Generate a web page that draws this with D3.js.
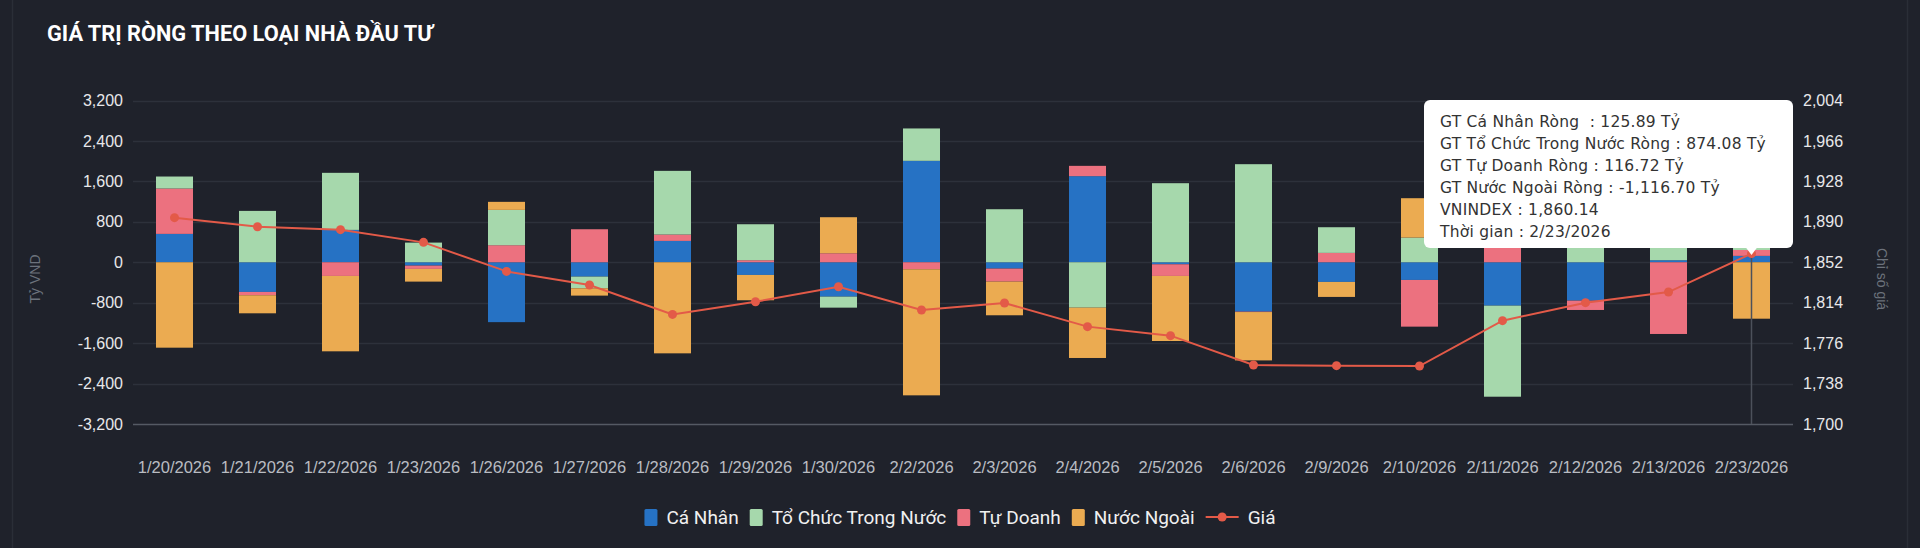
<!DOCTYPE html>
<html>
<head>
<meta charset="utf-8">
<script src="https://cdn.jsdelivr.net/npm/d3@7"></script>
<style>
  html, body { margin: 0; padding: 0; background: #1f222b; }
  svg { display: block; }
</style>
</head>
<body>
<svg id="chart" width="1920" height="548"></svg>
<script>
// ---------------- DATA ----------------
const dates = ["1/20/2026","1/21/2026","1/22/2026","1/23/2026","1/26/2026","1/27/2026","1/28/2026","1/29/2026","1/30/2026","2/2/2026",
               "2/3/2026","2/4/2026","2/5/2026","2/6/2026","2/9/2026","2/10/2026","2/11/2026","2/12/2026","2/13/2026","2/23/2026"];
const caNhan    = [561, -587, 640, -66, -1185, -284, 422, -251, -680, 2006, -125, 1703, -40, -977, -389, -350, -858, -759, 40, 125.89];
const toChuc    = [237, 1016, 1129, 389, 699, -231, 1260, 712, -218, 641, 1049, -898, 1564, 1940, 508, 488, -1802, 944, 1379, 874.08];
const tuDoanh   = [898, -66, -271, -66, 337, 653, 126, 40, 178, -139, -258, 204, -231, -8, 185, -924, 2660, -185, -1419, 116.72];
const nuocNgoai = [-1690, -357, -1491, -251, 159, -145, -1802, -501, 713, -2494, -666, -996, -1287, -957, -297, 779, 0, 0, 0, -1116.70];
const vnindex   = [1893.9, 1885.4, 1882.6, 1870.7, 1843.4, 1830.6, 1803.0, 1814.9, 1829.0, 1807.1, 1813.7, 1791.5, 1783.0, 1755.4, 1754.8, 1754.5, 1797.1, 1814.0, 1824.0, 1860.14];

const leftTicks  = [-3200, -2400, -1600, -800, 0, 800, 1600, 2400, 3200];
const rightTicks = [1700, 1738, 1776, 1814, 1852, 1890, 1928, 1966, 2004];

const seriesNames  = ["Cá Nhân", "Tổ Chức Trong Nước", "Tự Doanh", "Nước Ngoài"];
const seriesKeys   = ["caNhan", "toChuc", "tuDoanh", "nuocNgoai"];
const seriesColors = ["#2672c4", "#a6d8ac", "#ec717f", "#ebab51"];
const stackOrder   = ["caNhan", "tuDoanh", "toChuc", "nuocNgoai"];
const lineName = "Giá";
const lineColor = "#e35a48";
const title = "GIÁ TRỊ RÒNG THEO LOẠI NHÀ ĐẦU TƯ";
const leftTitle = "Tỷ VND";
const rightTitle = "Chỉ số giá";
const tooltipIndex = 19;

// ---------------- BUILD ----------------
const loc = d3.formatLocale({ decimal: ".", thousands: ",", grouping: [3], currency: ["", ""], minus: "-" });
const fmtInt = loc.format(",");
const fmt = loc.format(",.2f");

const seriesValues = { caNhan, toChuc, tuDoanh, nuocNgoai };
const colorOf = {}; seriesKeys.forEach((k, i) => colorOf[k] = seriesColors[i]);
const rows = dates.map((d, i) => {
  const r = { date: d };
  seriesKeys.forEach(k => r[k] = seriesValues[k][i]);
  return r;
});

const svg = d3.select("#chart");
const W = 1920, H = 548;
const m = { left: 133, right: 1793, top: 100.5, bottom: 424 };

svg.append("rect").attr("width", W).attr("height", H).attr("fill", "#1f222b");
svg.append("line").attr("x1", 12.5).attr("x2", 12.5).attr("y1", 0).attr("y2", H).attr("stroke", "#2a2e37").attr("stroke-width", 1.5);
svg.append("line").attr("x1", 1907.5).attr("x2", 1907.5).attr("y1", 0).attr("y2", H).attr("stroke", "#2a2e37").attr("stroke-width", 1.5);

// title fitted to reference width
const titleEl = svg.append("text").attr("x", 47).attr("y", 41)
  .attr("font-family", "Roboto, 'Noto Sans', sans-serif").attr("font-weight", 700).attr("font-size", 20)
  .attr("fill", "#ffffff").text(title);
{
  const w = titleEl.node().getComputedTextLength();
  titleEl.attr("font-size", 20 * 386 / w);
}

const x = d3.scaleBand().domain(dates).range([m.left, m.right]).paddingInner(0.554).paddingOuter(0.277);
const y = d3.scaleLinear().domain([-3200, 3200]).range([m.bottom, m.top]);
const y2 = d3.scaleLinear().domain([1700, 2004]).range([m.bottom, m.top]);

// gridlines
svg.append("g").selectAll("line").data(leftTicks.filter(t => t !== -3200)).join("line")
  .attr("x1", m.left).attr("x2", m.right)
  .attr("y1", d => Math.round(y(d)) + 0.5).attr("y2", d => Math.round(y(d)) + 0.5)
  .attr("stroke", "#2d313b").attr("stroke-width", 1.5);
svg.append("line").attr("x1", m.left).attr("x2", m.right)
  .attr("y1", Math.round(y(-3200)) + 0.5).attr("y2", Math.round(y(-3200)) + 0.5)
  .attr("stroke", "#555a64").attr("stroke-width", 1.5);

const numFont = "'Liberation Sans', Arial, sans-serif";
const leftAxis = svg.append("g").attr("transform", `translate(${m.left},0)`)
  .call(d3.axisLeft(y).tickValues(leftTicks).tickSize(0).tickPadding(10).tickFormat(fmtInt));
leftAxis.select(".domain").remove();
leftAxis.selectAll("text").attr("font-family", numFont).attr("font-size", 16).attr("fill", "#e8e8ea");

const rightAxis = svg.append("g").attr("transform", `translate(${m.right},0)`)
  .call(d3.axisRight(y2).tickValues(rightTicks).tickSize(0).tickPadding(10).tickFormat(fmtInt));
rightAxis.select(".domain").remove();
rightAxis.selectAll("text").attr("font-family", numFont).attr("font-size", 16).attr("fill", "#e8e8ea");

const bottomAxis = svg.append("g").attr("transform", `translate(0,${m.bottom})`)
  .call(d3.axisBottom(x).tickSize(0).tickPadding(37));
bottomAxis.select(".domain").remove();
bottomAxis.selectAll("text").attr("font-family", numFont).attr("font-size", 16.5).attr("fill", "#b9bcc2");

svg.append("text").attr("transform", "translate(40,279) rotate(-90)").attr("text-anchor", "middle")
  .attr("font-family", numFont).attr("font-size", 14).attr("fill", "#6c727c").text(leftTitle);
svg.append("text").attr("transform", "translate(1877,279) rotate(90)").attr("text-anchor", "middle")
  .attr("font-family", numFont).attr("font-size", 14).attr("fill", "#6c727c").text(rightTitle);

// stacked bars
const stacked = d3.stack().keys(stackOrder).offset(d3.stackOffsetDiverging)(rows);
svg.append("g").selectAll("g").data(stacked).join("g")
  .attr("fill", s => colorOf[s.key])
  .selectAll("rect").data(s => s).join("rect")
  .attr("x", d => x(d.data.date))
  .attr("width", x.bandwidth())
  .attr("y", d => y(Math.max(d[0], d[1])))
  .attr("height", d => Math.abs(y(d[0]) - y(d[1])));

// crosshair
const cx = x(dates[tooltipIndex]) + x.bandwidth() / 2;
svg.append("line").attr("x1", cx).attr("x2", cx).attr("y1", y2(vnindex[tooltipIndex])).attr("y2", m.bottom)
  .attr("stroke", "#4c515b").attr("stroke-width", 1.5);

// price line
const line = d3.line().x((d, i) => x(dates[i]) + x.bandwidth() / 2).y(d => y2(d));
svg.append("path").datum(vnindex).attr("d", line).attr("fill", "none").attr("stroke", lineColor).attr("stroke-width", 2);
svg.append("g").selectAll("circle").data(vnindex).join("circle")
  .attr("cx", (d, i) => x(dates[i]) + x.bandwidth() / 2).attr("cy", d => y2(d)).attr("r", 4.5).attr("fill", lineColor);

// tooltip
const ti = tooltipIndex;
const tipLines = [
  `GT Cá Nhân Ròng  : ${fmt(caNhan[ti])} Tỷ`,
  `GT Tổ Chức Trong Nước Ròng : ${fmt(toChuc[ti])} Tỷ`,
  `GT Tự Doanh Ròng : ${fmt(tuDoanh[ti])} Tỷ`,
  `GT Nước Ngoài Ròng : ${fmt(nuocNgoai[ti])} Tỷ`,
  `VNINDEX : ${fmt(vnindex[ti])}`,
  `Thời gian : ${dates[ti]}`
];
const tip = svg.append("g");
tip.append("rect").attr("x", 1424).attr("y", 100).attr("width", 369).attr("height", 148).attr("rx", 6).attr("fill", "#ffffff");
tip.append("path").attr("d", `M${cx - 6},247 L${cx + 6},247 L${cx},255 Z`).attr("fill", "#ffffff");
const tipTexts = tip.selectAll("text").data(tipLines).join("text")
  .attr("x", 1440).attr("y", (d, i) => 127 + i * 22)
  .attr("xml:space", "preserve").style("white-space", "pre")
  .attr("font-family", "'DejaVu Sans', sans-serif").attr("font-size", 15.5).attr("fill", "#333333")
  .text(d => d);
{
  const longest = tipTexts.nodes()[1];
  const w = longest.getComputedTextLength();
  const n = tipLines[1].length;
  const ls = (326 - w) / n;
  tipTexts.attr("letter-spacing", ls);
}

// legend
const items = seriesNames.map((n, i) => ({ name: n, color: seriesColors[i], type: "rect" }))
  .concat([{ name: lineName, color: lineColor, type: "line" }]);
const lg = svg.append("g").selectAll("g").data(items).join("g");
lg.append("text").attr("font-family", "Roboto, 'Noto Sans', sans-serif").attr("font-size", 19).attr("fill", "#f0f0f0")
  .attr("y", 524).text(d => d.name);
lg.each(function(d) { d.tw = d3.select(this).select("text").node().getComputedTextLength(); });
const symW = d => d.type === "rect" ? 13 : 33;
const gapSym = 9, gapItem = 11;
let total = 0;
items.forEach((d, i) => { total += symW(d) + gapSym + d.tw + (i < items.length - 1 ? gapItem : 0); });
let cur = 960 - total / 2;
lg.each(function(d) {
  const g = d3.select(this);
  const sx = cur;
  if (d.type === "rect") {
    g.append("rect").attr("x", sx).attr("y", 509).attr("width", 13).attr("height", 17).attr("rx", 1.5).attr("fill", d.color);
  } else {
    g.append("line").attr("x1", sx).attr("x2", sx + 33).attr("y1", 517).attr("y2", 517).attr("stroke", d.color).attr("stroke-width", 2);
    g.append("circle").attr("cx", sx + 16.5).attr("cy", 517).attr("r", 4.5).attr("fill", d.color);
  }
  g.select("text").attr("x", sx + symW(d) + gapSym);
  cur += symW(d) + gapSym + d.tw + gapItem;
});
</script>
</body>
</html>
